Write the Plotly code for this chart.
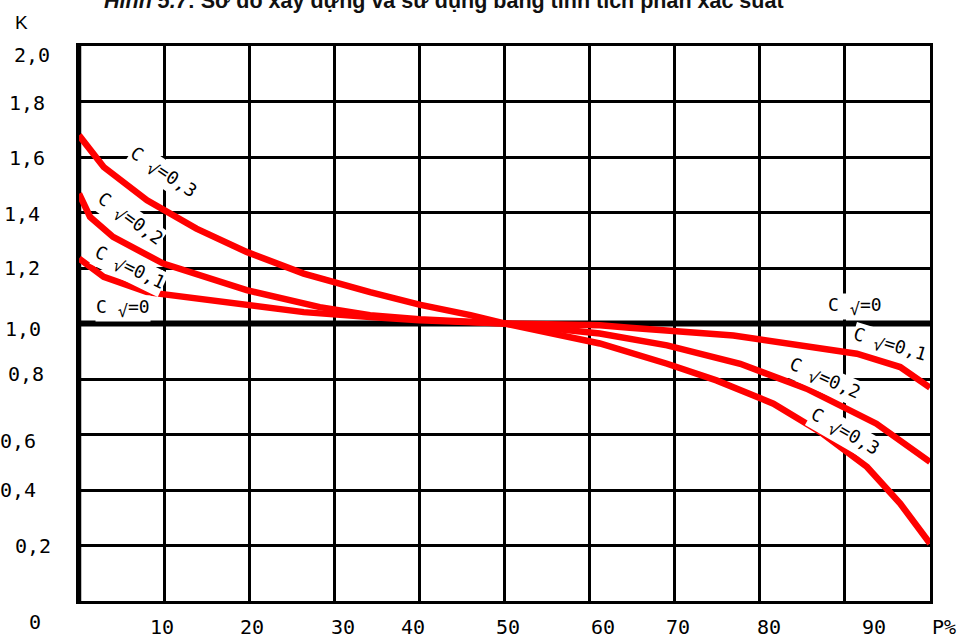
import plotly.graph_objects as go

# ---- data: modulus coefficient K versus exceedance probability P (%) ----
P_CV03 = [0, 2.9, 8.0, 13.8, 19.7, 26.4, 34.2, 40.0, 46.0, 50.0, 61.2, 69.1, 74.9, 81.6, 87.1, 92.6, 96.5, 100]
K_CV03 = [1.678, 1.564, 1.444, 1.342, 1.258, 1.180, 1.113, 1.068, 1.030, 1.0, 0.928, 0.855, 0.795, 0.711, 0.609, 0.483, 0.351, 0.207]

P_CV02 = [0, 1.3, 4.0, 7.6, 9.9, 19.7, 28.3, 34.2, 40.0, 50.0, 61.2, 69.1, 77.7, 85.5, 93.7, 100]
K_CV02 = [1.468, 1.384, 1.312, 1.252, 1.216, 1.120, 1.059, 1.030, 1.015, 1.0, 0.964, 0.921, 0.855, 0.765, 0.639, 0.501]

P_CV01 = [0, 2.9, 8.0, 19.7, 26.4, 34.2, 40.0, 50.0, 61.2, 64.7, 76.9, 91.4, 96.5, 100]
K_CV01 = [1.234, 1.168, 1.113, 1.066, 1.041, 1.023, 1.012, 1.0, 0.994, 0.985, 0.957, 0.891, 0.843, 0.769]

CV0_LEVEL = 1.0

X_TICK_TEXT = ["10", "20", "30", "40", "50", "60", "70", "80", "90", "P%"]
Y_TICK_TEXT = ["2,0", "1,8", "1,6", "1,4", "1,2", "1,0", "0,8", "0,6", "0,4", "0,2", "0"]
Y_TICK_VALUES = [2.0, 1.8, 1.6, 1.4, 1.2, 1.0, 0.8, 0.6, 0.4, 0.2, 0.0]

TITLE = "<i>Hình 5.7</i>: Sơ đồ xây dựng và sử dụng bảng tính tích phân xác suất"

# ---- layout helpers (label placement) ----
X_LABEL_AT = [9.75, 20.33, 31.02, 39.25, 50.41, 61.57, 70.39, 81.08, 93.42, 101.6]
Y_LABEL_CENTER_PX = [32, 27, 27, 22, 22, 23, 26, 18, 18, 33, 35]
Y_LABEL_DROP_PX = [9, 1, 1, 1, 0, 5, -5, 6, 0, 0, 21]

CV_SYM = 'C <sub><span style="font-size:17px">√</span></sub>='
CURVE_LABELS = [
    # text, P, K, angle
    (CV_SYM + "0,3", 9.87, 1.540, 34),
    (CV_SYM + "0,2", 5.90, 1.375, 36),
    (CV_SYM + "0,1", 5.90, 1.200, 26),
    (CV_SYM + "0", 5.17, 1.055, 0),
    (CV_SYM + "0", 91.2, 1.062, 0),
    (CV_SYM + "0,1", 95.2, 0.920, 17),
    (CV_SYM + "0,2", 87.6, 0.800, 24),
    (CV_SYM + "0,3", 89.9, 0.608, 30),
]

W, H = 959, 634
ML, MR, MT, MB = 79, 29, 46, 33

RED = "#ff0000"
LABEL_FONT = dict(family="DejaVu Sans Mono", size=20, color="black")
CURVE_FONT = dict(family="DejaVu Sans Mono", size=18, color="black")

fig = go.Figure()
for p, k in ((P_CV03, K_CV03), (P_CV02, K_CV02), (P_CV01, K_CV01)):
    fig.add_trace(go.Scatter(x=p, y=k, mode="lines",
                             line=dict(color=RED, width=6.5),
                             hoverinfo="skip", showlegend=False, cliponaxis=False))

# thick line for Cv = 0 and heavier left frame
fig.add_shape(type="line", xref="x", yref="y", x0=0, x1=100, y0=CV0_LEVEL, y1=CV0_LEVEL,
              line=dict(color="black", width=6), layer="below")
fig.add_shape(type="line", xref="x", yref="paper", x0=0, x1=0, y0=0, y1=1,
              line=dict(color="black", width=4.5), layer="below")

ann = []
for txt, xv in zip(X_TICK_TEXT, X_LABEL_AT):
    ann.append(dict(x=xv / 100, y=0, xref="paper", yref="paper", text=txt, showarrow=False,
                    xanchor="center", yanchor="middle", yshift=-26, font=LABEL_FONT))
for txt, yv, cx, dy in zip(Y_TICK_TEXT, Y_TICK_VALUES, Y_LABEL_CENTER_PX, Y_LABEL_DROP_PX):
    ann.append(dict(x=0, y=yv, xref="paper", yref="y", text=txt, showarrow=False,
                    xanchor="center", yanchor="middle", xshift=cx - ML, yshift=-dy,
                    font=LABEL_FONT))
for txt, xv, yv, ang in CURVE_LABELS:
    ann.append(dict(x=xv, y=yv, xref="x", yref="y", text=txt, showarrow=False,
                    textangle=ang, xanchor="center", yanchor="middle",
                    bgcolor="white", borderpad=0, font=CURVE_FONT))
ann.append(dict(x=0, y=1, xref="paper", yref="paper", text="K", showarrow=False,
                xanchor="center", yanchor="middle", xshift=21 - ML, yshift=24,
                font=dict(family="Liberation Sans", size=19, color="black")))
ann.append(dict(x=(444 - ML) / (W - ML - MR), y=1, xref="paper", yref="paper", text=TITLE,
                showarrow=False, xanchor="center", yanchor="bottom", yshift=31,
                font=dict(family="Liberation Sans", size=21.5, color="#111111", weight="bold")))

fig.update_layout(
    width=W, height=H,
    margin=dict(l=ML, r=MR, t=MT, b=MB),
    paper_bgcolor="white", plot_bgcolor="white",
    annotations=ann,
    xaxis=dict(range=[0, 100], dtick=10, tick0=0, showgrid=True, gridcolor="black",
               gridwidth=3, zeroline=False, showticklabels=False, ticks="",
               showline=True, mirror=True, linecolor="black", linewidth=3, fixedrange=True),
    yaxis=dict(range=[0, 2], dtick=0.2, tick0=0, showgrid=True, gridcolor="black",
               gridwidth=3, zeroline=False, showticklabels=False, ticks="",
               showline=True, mirror=True, linecolor="black", linewidth=3, fixedrange=True),
)

fig.write_html("out.html")
